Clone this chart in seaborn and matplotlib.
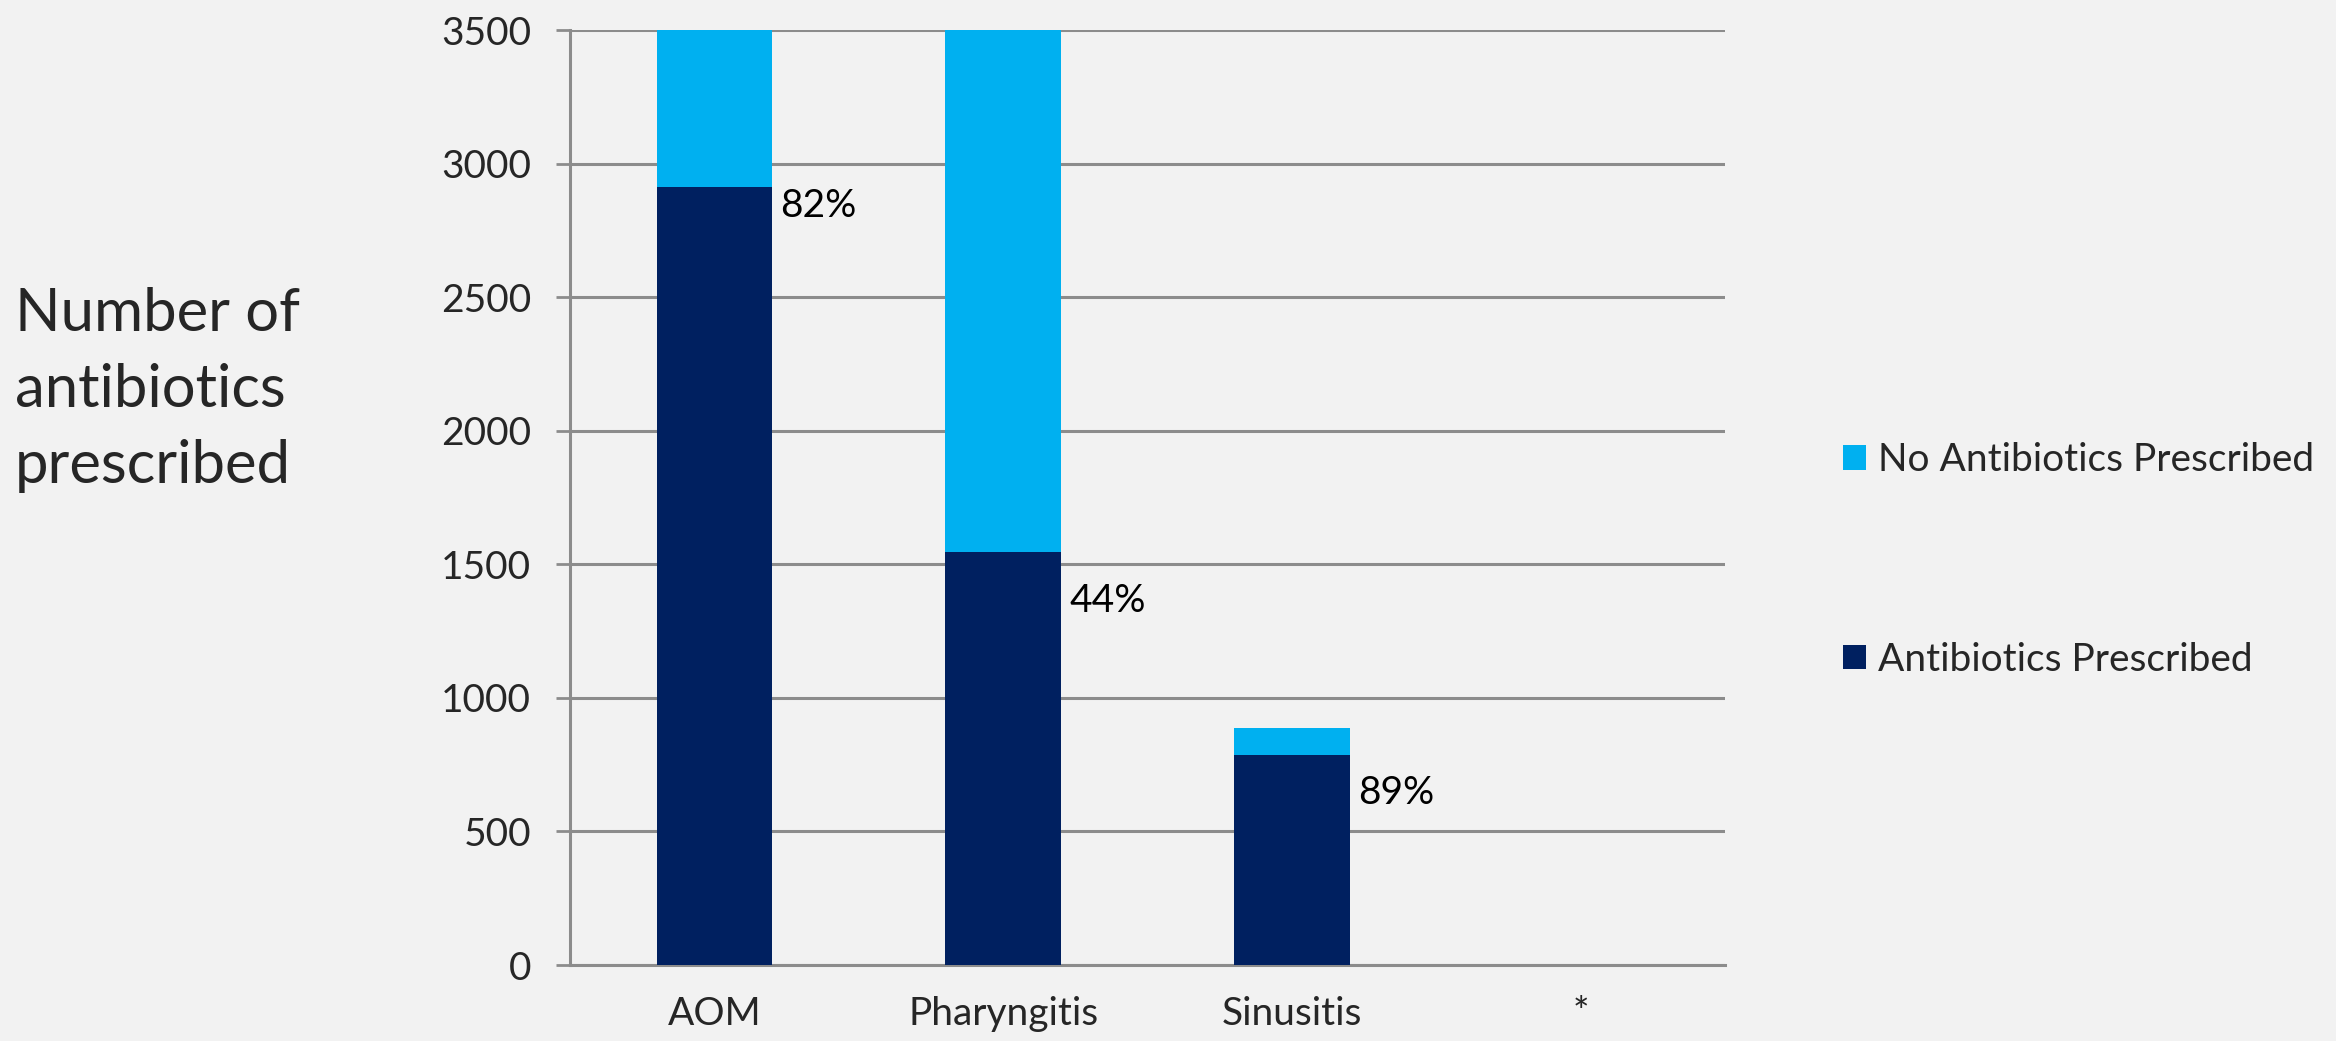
import matplotlib
matplotlib.use("Agg")
import matplotlib.pyplot as plt
from matplotlib.patches import Patch
import seaborn as sns
import pandas as pd

# Prescribing counts per diagnosis
categories = ["AOM", "Pharyngitis", "Sinusitis", "*"]
prescribed = [2913, 1546, 786, 0]
not_prescribed = [640, 1968, 101, 0]
pct_labels = ["82%", "44%", "89%"]
y_ticks = [0, 500, 1000, 1500, 2000, 2500, 3000, 3500]

light = "#00B0F0"
dark = "#002060"
grid_col = "#8C8C8C"
bg = "#F2F2F2"

sns.set_theme(style="white")
plt.rcParams["font.family"] = ["Lato", "DejaVu Sans"]

df = pd.DataFrame({
    "category": categories,
    "prescribed": prescribed,
    "total": [a + b for a, b in zip(prescribed, not_prescribed)],
})

fig = plt.figure(figsize=(23.36, 10.41), dpi=100, facecolor=bg)
ax = fig.add_axes([570 / 2336, 1 - 965 / 1041, (1725 - 570) / 2336, (965 - 30) / 1041])
ax.set_facecolor(bg)

sns.barplot(data=df, x="category", y="total", color=light, width=0.4,
            saturation=1, ax=ax, zorder=3, linewidth=0)
sns.barplot(data=df, x="category", y="prescribed", color=dark, width=0.4,
            saturation=1, ax=ax, zorder=4, linewidth=0)

ax.set_ylim(0, 3500)
ax.set_xlim(-0.5, len(categories) - 0.5)
ax.set_yticks(y_ticks)
ax.set_yticklabels([str(t) for t in y_ticks], fontsize=28)
ax.yaxis.grid(True, color=grid_col, linewidth=2.2, zorder=0)
ax.set_axisbelow(True)

# category boundaries as major ticks, names centred as minor ticks
ax.set_xticks([i - 0.5 for i in range(len(categories) + 1)])
ax.set_xticklabels([])
ax.set_xticks(range(len(categories)), minor=True)
ax.set_xticklabels(categories, minor=True, fontsize=28)
ax.tick_params(axis="x", which="major", length=10, width=2, color=grid_col, direction="out")
ax.tick_params(axis="x", which="minor", length=0, pad=22)
ax.tick_params(axis="y", length=10, width=2, color=grid_col, direction="out", pad=18, left=True)
ax.set_xlabel("")
ax.set_ylabel("")

for side in ["top", "right"]:
    ax.spines[side].set_visible(False)
for side in ["left", "bottom"]:
    ax.spines[side].set_color(grid_col)
    ax.spines[side].set_linewidth(2.2)

# percentage labels beside the dark segments
label_drop = [14, 35, 27]
for i, (val, txt) in enumerate(zip(prescribed, pct_labels)):
    ax.annotate(txt, xy=(i + 0.2, val), xytext=(6, -label_drop[i]),
                textcoords="offset points", ha="left", va="center",
                fontsize=28, color="black", zorder=5)

fig.text(15 / 2336, 1 - 390 / 1041, "Number of\nantibiotics\nprescribed",
         ha="left", va="center", fontsize=43, linespacing=1.5)

handles = [Patch(facecolor=light, edgecolor="none"), Patch(facecolor=dark, edgecolor="none")]
fig.legend(handles, ["No Antibiotics Prescribed", "Antibiotics Prescribed"],
           loc="center left", bbox_to_anchor=(1843 / 2336, 1 - 560 / 1041),
           frameon=False, fontsize=28, handlelength=0.6, handleheight=0.6,
           handletextpad=0.3, labelspacing=4.2, borderpad=0, borderaxespad=0)

fig.savefig("out.png", dpi=100, facecolor=bg)
